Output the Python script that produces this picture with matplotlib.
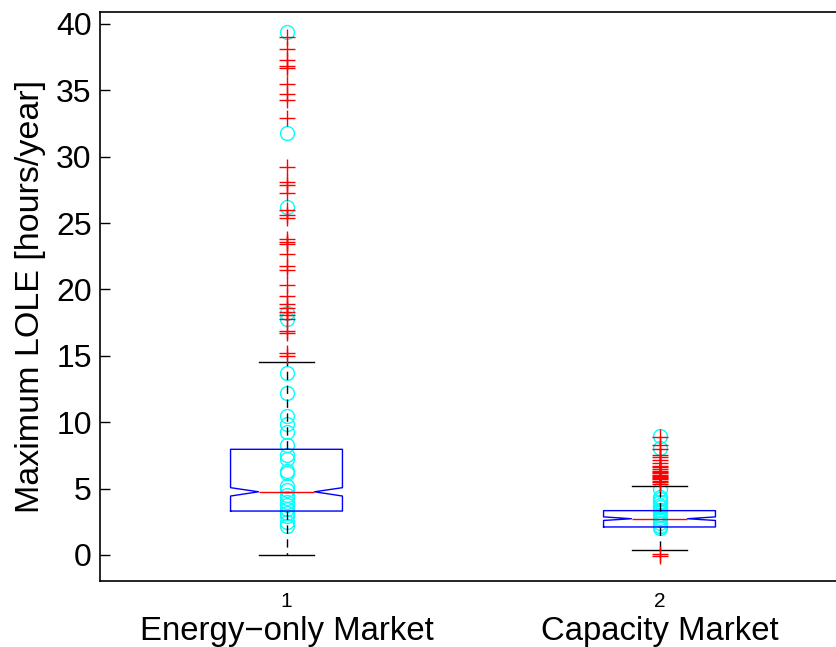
import numpy as np
import matplotlib
matplotlib.use("Agg")
import matplotlib.pyplot as plt

plt.rcParams['font.family'] = ['Liberation Sans', 'DejaVu Sans']

# categories
positions = [1, 2]
tick_labels = ['1', '2']
market_names = ['Energy\u2212only Market', 'Capacity Market']

# box statistics: whislo, q1, med, q3, whishi, notch lo/hi
whislo = [0.0, 0.40]
q1 = [3.31, 2.11]
med = [4.76, 2.73]
q3 = [7.96, 3.34]
whishi = [14.5, 5.22]
cilo = [4.44, 2.60]
cihi = [5.07, 2.87]

# outliers (red +)
fliers_energy = [39.0, 38.1, 37.3, 36.8, 36.7, 35.5, 34.7, 34.3, 32.9, 29.2,
                 28.1, 27.9, 27.3, 26.0, 25.6, 25.4, 23.8, 23.6, 23.4, 22.7,
                 21.8, 21.5, 20.3, 19.5, 18.9, 18.6, 18.3, 18.1, 17.8, 16.9,
                 16.7, 15.2, 15.0]
fliers_capacity = [8.9, 8.29, 8.0, 7.53, 7.36, 7.16, 6.9, 6.7, 6.6, 6.48,
                   6.33, 6.25, 6.15, 6.05, 5.95, 5.85, 5.78, 5.7, 5.57, 5.5,
                   5.35, 0.1, -0.1]

# highlighted scenarios (cyan circles)
circles_energy = [39.4, 31.8, 26.2, 18.2, 17.8, 13.7, 12.2, 10.5, 9.85, 9.3,
                  8.3, 7.5, 7.2, 6.3, 6.15, 5.2, 4.9, 4.5, 4.27, 4.0, 3.77,
                  3.5, 3.14, 2.9, 2.5, 2.2]
circles_capacity = [8.95, 8.05, 4.95, 4.4, 4.2, 4.0, 3.8, 3.6, 3.4, 3.2, 3.0,
                    2.8, 2.6, 2.4, 2.2, 2.05]

fliers = [fliers_energy, fliers_capacity]
circles = [circles_energy, circles_capacity]

stats = []
for i in range(len(positions)):
    stats.append({'whislo': whislo[i], 'q1': q1[i], 'med': med[i], 'q3': q3[i],
                  'whishi': whishi[i], 'cilo': cilo[i], 'cihi': cihi[i],
                  'fliers': fliers[i]})

fig = plt.figure(figsize=(8.36, 6.47), dpi=100)
ax = fig.add_axes([100 / 836, 66 / 647, 746 / 836, 569 / 647])

# cyan circles first so the box plot sits on top
for p, c in zip(positions, circles):
    ax.plot([p] * len(c), c, linestyle='none', marker='o', markersize=10,
            markerfacecolor='none', markeredgecolor='cyan', markeredgewidth=1.0,
            zorder=1)

ax.bxp(stats, positions=positions, widths=0.3, shownotches=True,
       boxprops=dict(color='blue', linewidth=1.0),
       medianprops=dict(color='red', linewidth=1.0),
       whiskerprops=dict(color='black', linewidth=1.0, linestyle=(0, (6, 4))),
       capprops=dict(color='black', linewidth=1.0),
       flierprops=dict(marker='+', markersize=11, markeredgecolor='red',
                       markeredgewidth=1.0, linestyle='none'),
       manage_ticks=False, zorder=2)

ax.set_xlim(0.5, 2.5)
ax.set_ylim(-1.96, 40.9)
ax.set_yticks(np.arange(0, 41, 5))
ax.set_xticks(positions)
ax.set_xticklabels(tick_labels, fontsize=15)
ax.tick_params(axis='y', direction='in', length=7, width=1, labelsize=23, pad=6)
ax.tick_params(axis='x', length=0, pad=8)
ax.set_ylabel('Maximum LOLE [hours/year]', fontsize=24.5, labelpad=7)

for p, name in zip(positions, market_names):
    ax.text(p, -0.088, name, transform=ax.get_xaxis_transform(),
            ha='center', va='center', fontsize=23.7)

for s in ax.spines.values():
    s.set_linewidth(1.2)

fig.savefig('out.png', dpi=100)
